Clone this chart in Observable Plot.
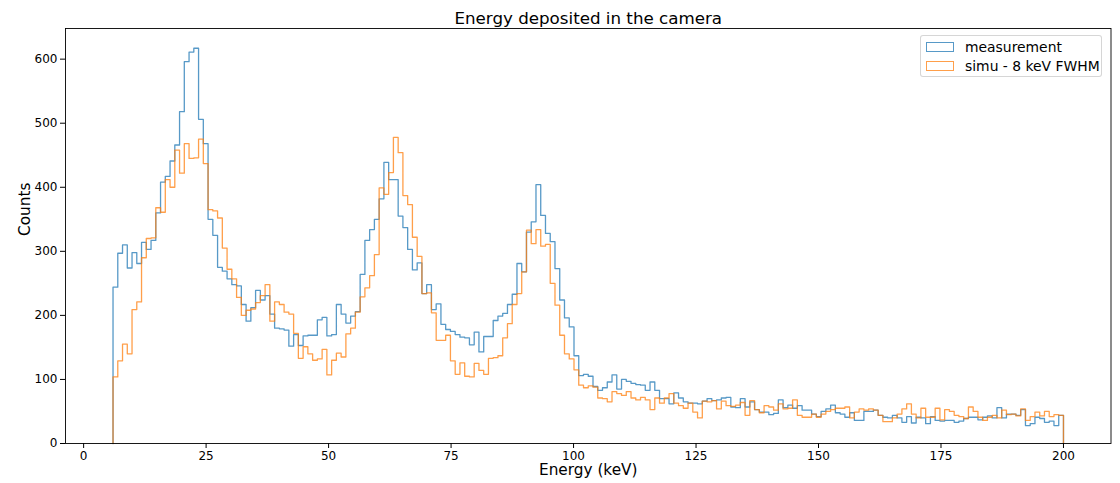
<!DOCTYPE html>
<html>
<head>
<meta charset="utf-8">
<script src="https://cdn.jsdelivr.net/npm/d3@7"></script>
<script src="https://cdn.jsdelivr.net/npm/@observablehq/plot@0.6"></script>
<style>
  html, body { margin: 0; padding: 0; background: #fff; }
  #wrap { position: relative; width: 1120px; height: 483px; font-family: "DejaVu Sans", sans-serif; }
  #legend { position: absolute; left: 920px; top: 35px; width: 182px; height: 42px; box-sizing: border-box;
    border: 1px solid rgba(204,204,204,0.8); border-radius: 3px; background: rgba(255,255,255,0.8); font-size: 13.9px; color: #000; }
  .item { position: absolute; left: 5px; height: 16px; display: flex; align-items: center; }
  .sw { width: 26px; height: 8px; box-sizing: content-box; margin-right: 11px; }
</style>
</head>
<body>
<div id="wrap"></div>
<script>
// Histogram definition (200 bins from 6 to 200 keV)
const binStart = 6;
const binEnd = 200;
const nBins = 200;
const seriesNames = ["measurement", "simu - 8 keV FWHM"];
const seriesColors = ["#1f77b4", "#ff7f0e"];
const xTicks = [0, 25, 50, 75, 100, 125, 150, 175, 200];
const yTicks = [0, 100, 200, 300, 400, 500, 600];

const measurement = [244, 297, 310, 274, 298, 281, 314, 303, 317, 360, 408, 417, 441, 466, 518, 596, 611, 617, 506, 468, 350, 325, 275, 269, 257, 248, 246, 217, 191, 212, 239,
224, 231, 202, 180, 179, 177, 152, 170, 153, 168, 169, 169, 193, 197, 168, 170, 217, 202, 188, 199, 206, 264, 317, 334, 350, 382, 439, 412, 412, 355, 337, 303, 271, 282,
234, 248, 209, 218, 186, 178, 175, 170, 166, 165, 154, 174, 143, 167, 167, 192, 199, 203, 217, 233, 281, 268, 330, 346, 404, 356, 328, 315, 273, 224, 196, 182, 137, 106, 108,
105, 89, 83, 87, 96, 107, 85, 100, 97, 94, 92, 91, 83, 96, 83, 70, 70, 62, 79, 71, 65, 63, 63, 62, 66, 70, 67, 68, 71, 72, 57, 56, 70, 57, 65, 53, 49, 49, 45, 47, 68, 56, 60, 55, 59, 52, 52, 46, 42, 50,
54, 60, 48, 46, 41, 48, 36, 36, 50, 50, 52, 44, 41, 40, 44, 40, 33, 42, 32, 41, 40, 31, 42, 36, 35, 36, 36, 33, 35, 39, 41, 41, 37, 41, 43, 40, 56, 40, 46, 46, 44, 53, 28, 31, 41, 39, 33, 35, 28, 44];

const simulation = [104, 129, 155, 140, 209, 221, 290, 320, 321, 368, 361, 412, 400, 458, 422, 468, 445, 446, 475, 437, 365, 363, 352, 305, 272, 257, 228, 200, 208, 210, 220,
231, 248, 191, 221, 217, 205, 202, 172, 133, 151, 140, 130, 132, 147, 107, 130, 141, 135, 171, 180, 205, 229, 243, 262, 295, 399, 389, 423, 478, 454, 387, 373, 322, 292,
234, 235, 204, 161, 161, 169, 129, 108, 126, 105, 104, 125, 114, 108, 133, 134, 137, 165, 187, 217, 234, 268, 333, 312, 334, 308, 311, 250, 216, 169, 140, 132, 115, 91, 87,
90, 88, 71, 70, 65, 81, 78, 75, 81, 71, 68, 72, 68, 53, 71, 63, 71, 78, 63, 59, 55, 63, 49, 40, 66, 65, 67, 54, 66, 59, 58, 60, 64, 44, 67, 53, 48, 59, 57, 52, 62, 54, 55, 68, 44, 41, 41, 46, 41, 46,
50, 53, 55, 55, 57, 40, 49, 54, 52, 54, 52, 44, 34, 34, 40, 46, 54, 62, 46, 40, 55, 41, 41, 55, 37, 53, 50, 44, 42, 39, 57, 50, 41, 36, 41, 44, 40, 52, 45, 46, 43, 54, 36, 42, 49, 43, 50, 42, 45, 44];

// Build step outline points (histtype="step")
const binWidth = (binEnd - binStart) / nBins;
function stepPoints(values, series) {
  const pts = [{x: binStart, y: 0, series}];
  values.forEach((v, i) => pts.push({x: binStart + i * binWidth, y: v, series}));
  pts.push({x: binEnd, y: values[values.length - 1], series});
  pts.push({x: binEnd, y: 0, series});
  return pts;
}
const pts = [...stepPoints(measurement, seriesNames[0]), ...stepPoints(simulation, seriesNames[1])];

const allMax = d3.max([...measurement, ...simulation]);
const span = binEnd - binStart;

const chart = Plot.plot({
  width: 1120,
  height: 483,
  marginLeft: 65,
  marginRight: 9.5,
  marginTop: 28,
  marginBottom: 40,
  style: {fontFamily: "DejaVu Sans, sans-serif", fontSize: "12px", color: "#000", background: "#fff"},
  x: {domain: [binStart - 0.05 * span, binEnd + 0.05 * span], ticks: xTicks, tickSize: 5, tickPadding: 3, label: null},
  y: {domain: [0, allMax * 1.05], ticks: yTicks, tickSize: 5, tickPadding: 3, label: null},
  color: {domain: seriesNames, range: seriesColors},
  marks: [
    Plot.line(pts, {x: "x", y: "y", z: "series", stroke: "series", curve: "step-after", strokeWidth: 1.3, strokeOpacity: 0.75}),
    Plot.frame({stroke: "#000", strokeWidth: 0.9}),
    Plot.axisX({ticks: xTicks, tickSize: 5, tickPadding: 3, fontSize: 12, label: null}),
    Plot.axisY({ticks: yTicks, tickSize: 5, tickPadding: 3, fontSize: 12, label: null}),
    Plot.text(["Energy deposited in the camera"], {frameAnchor: "top", lineAnchor: "middle", dy: -10, fontSize: 16.7, text: d => d}),
    Plot.text(["Energy (keV)"], {frameAnchor: "bottom", lineAnchor: "middle", dy: 27, fontSize: 15.3, text: d => d}),
    Plot.text(["Counts"], {frameAnchor: "left", lineAnchor: "middle", dx: -40, rotate: -90, fontSize: 15.3, text: d => d})
  ]
});

const wrap = document.getElementById("wrap");
wrap.appendChild(chart);

const legend = document.createElement("div");
legend.id = "legend";
seriesNames.forEach((name, i) => {
  const item = document.createElement("div");
  item.className = "item";
  item.style.top = (i === 0 ? 3 : 21.5) + "px";
  const sw = document.createElement("span");
  sw.className = "sw";
  sw.style.border = "1.3px solid " + seriesColors[i];
  sw.style.opacity = "0.75";
  const label = document.createElement("span");
  label.textContent = name;
  item.appendChild(sw);
  item.appendChild(label);
  legend.appendChild(item);
});
wrap.appendChild(legend);
</script>
</body>
</html>
